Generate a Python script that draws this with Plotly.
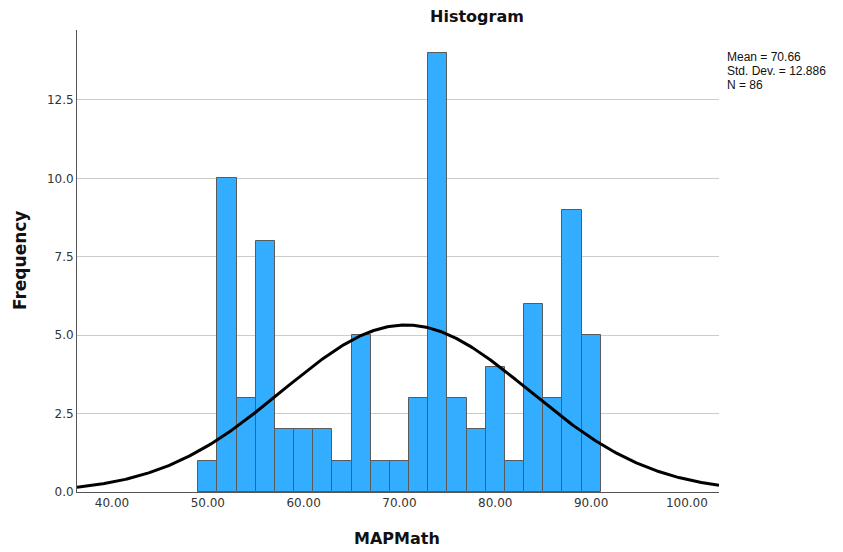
import numpy as np
import plotly.graph_objects as go

# Histogram data (bin width 2, bins from 49 to 91)
bin_centers = [50, 52, 54, 56, 58, 60, 62, 64, 66, 68, 70, 72, 74, 76, 78, 80, 82, 84, 86, 88, 90]
counts = [1, 10, 3, 8, 2, 2, 2, 1, 5, 1, 1, 3, 14, 3, 2, 4, 1, 6, 3, 9, 5]
bin_width = 2

mean_val = 70.66
std_val = 12.886
n_val = 86

x_tickvals = [40, 50, 60, 70, 80, 90, 100]
x_ticktext = ["40.00", "50.00", "60.00", "70.00", "80.00", "90.00", "100.00"]
y_tickvals = [0, 2.5, 5, 7.5, 10, 12.5]
y_ticktext = ["0.0", "2.5", "5.0", "7.5", "10.0", "12.5"]

x_range = [36.35, 103.35]
y_range = [0, 14.73]

# Normal curve scaled to counts (SPSS overlay)
xs = np.linspace(x_range[0], x_range[1], 400)
ys = n_val * bin_width / (std_val * np.sqrt(2 * np.pi)) * np.exp(-0.5 * ((xs - mean_val) / std_val) ** 2)

font_family = "DejaVu Sans, Liberation Sans, sans-serif"
stats_lines = [f"Mean = {mean_val}", f"Std. Dev. = {std_val}", f"N = {n_val}"]
stats_y = [0.9416, 0.9113, 0.8810]

fig = go.Figure()
fig.add_trace(go.Bar(
    x=bin_centers, y=counts, width=[bin_width] * len(bin_centers),
    marker=dict(color="#33ADFF", line=dict(color="#5a5a5a", width=1)),
    hoverinfo="x+y", showlegend=False,
))
fig.add_trace(go.Scatter(
    x=xs, y=ys, mode="lines", line=dict(color="black", width=3),
    showlegend=False, hoverinfo="skip",
))

annotations = [
    dict(xref="paper", yref="paper", x=0.623, y=1.029, xanchor="center", yanchor="middle",
         showarrow=False, text="<b>Histogram</b>", font=dict(size=16, color="#111111")),
    dict(xref="paper", yref="paper", x=-0.0888, y=0.502, xanchor="center", yanchor="middle",
         showarrow=False, textangle=-90, text="<b>Frequency</b>", font=dict(size=17, color="#111111")),
    dict(xref="paper", yref="paper", x=0.499, y=-0.0996, xanchor="center", yanchor="middle",
         showarrow=False, text="<b>MAPMath</b>", font=dict(size=16, color="#111111")),
]
for txt, yy in zip(stats_lines, stats_y):
    annotations.append(dict(
        xref="paper", yref="paper", x=1.011, y=yy, xanchor="left", yanchor="middle",
        align="left", showarrow=False, text=txt, borderpad=0,
        font=dict(size=12, color="#111111", family="Liberation Sans, Arial, sans-serif"),
    ))

fig.update_layout(
    width=835, height=544,
    margin=dict(l=69, r=124, t=22, b=60, autoexpand=False),
    paper_bgcolor="white", plot_bgcolor="white",
    font=dict(family=font_family, color="#222222"),
    bargap=0,
    xaxis=dict(
        range=x_range, tickvals=x_tickvals, ticktext=x_ticktext, automargin=False,
        showgrid=False, zeroline=False, showline=True, linecolor="#555555", linewidth=1,
        ticks="", tickfont=dict(size=12, color="#333333"),
    ),
    yaxis=dict(
        range=y_range, tickvals=y_tickvals, ticktext=y_ticktext, automargin=False,
        showgrid=True, gridcolor="#cccccc", gridwidth=1, zeroline=False,
        showline=True, linecolor="#555555", linewidth=1,
        ticks="", tickfont=dict(size=12, color="#333333"),
    ),
    annotations=annotations,
)

fig.write_html("out.html")
